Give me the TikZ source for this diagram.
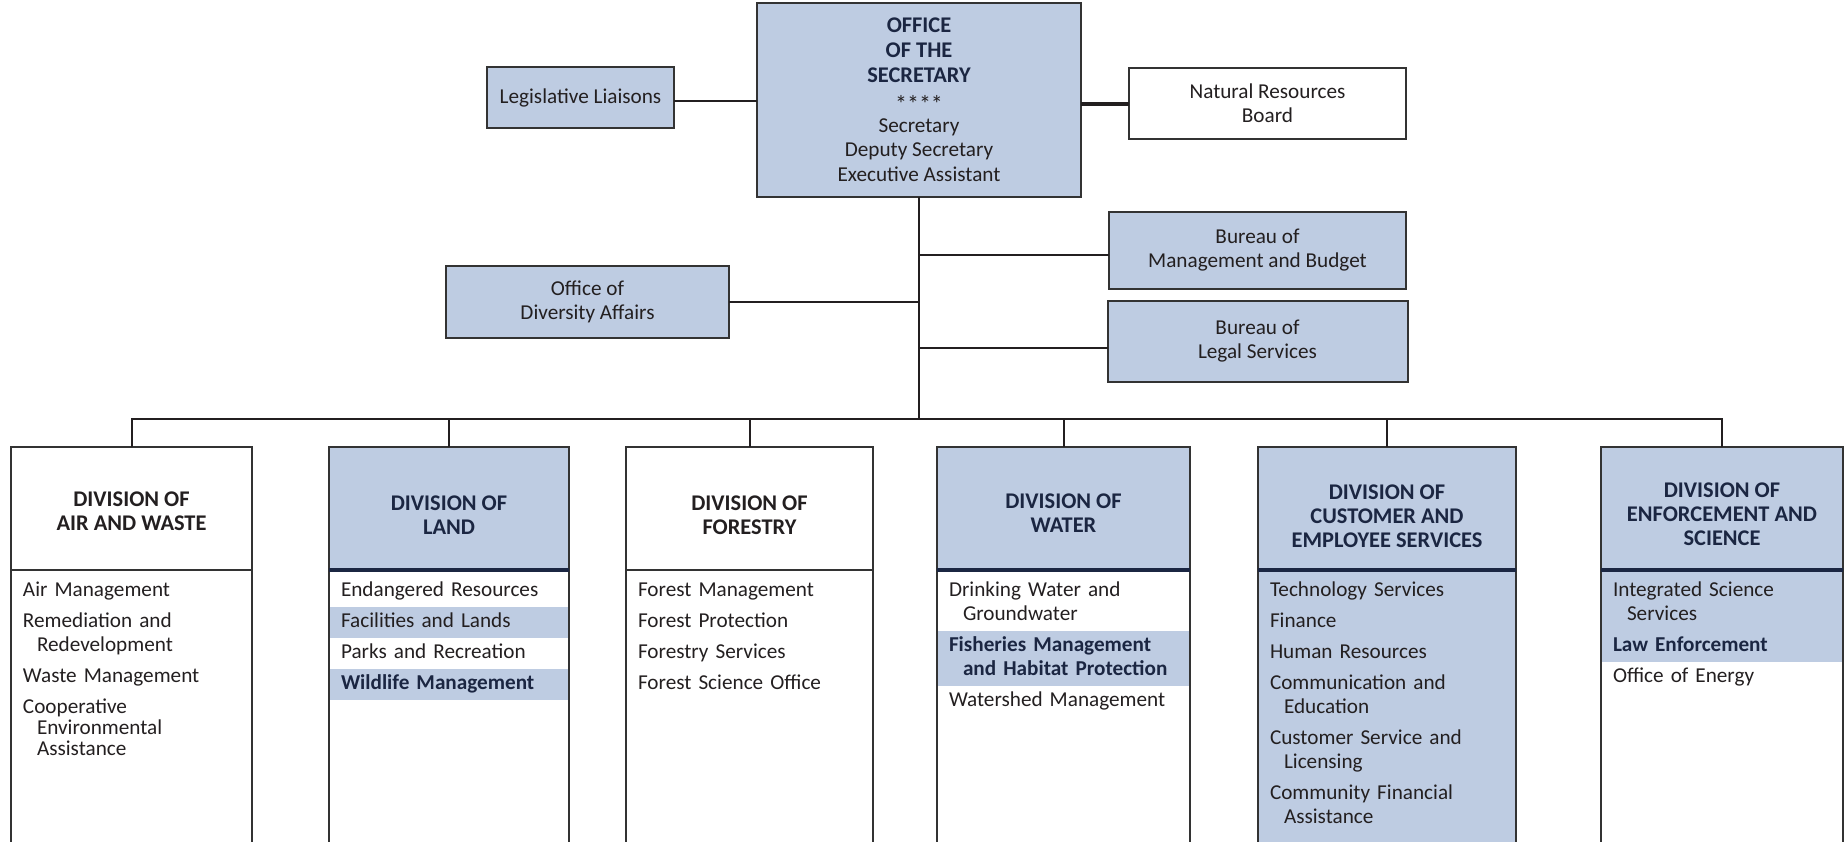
\documentclass[tikz,border=0pt]{standalone}
\usepackage{fontspec}
\setmainfont{Carlito}
\usetikzlibrary{positioning}

\definecolor{boxblue}{RGB}{190,204,226}
\definecolor{navy}{RGB}{27,38,66}
\definecolor{edge}{RGB}{51,51,51}
\definecolor{ink}{RGB}{35,31,32}

\newcommand{\rowstrut}{\rule[-3pt]{0pt}{11pt}}
\newcommand{\headstrut}[1][13.3pt]{\rule{0pt}{#1}}
\newcommand{\wrapin}{\hspace*{7pt}}
\newcommand{\caphead}[1]{\textcolor{navy}{\fontsize{11.2}{12.4}\selectfont\bfseries #1}}
\setlength{\lineskiplimit}{-6pt}

\begin{document}
\begin{tikzpicture}[
x=0.5pt, y=-0.5pt,
every node/.style={outer sep=0pt},
office/.style={draw=edge, line width=1pt, fill=boxblue, text=ink, align=center, inner sep=0pt, font=\fontsize{10.6}{12}\selectfont},
plainbox/.style={office, fill=white},
divhead/.style={draw=edge, line width=1pt, minimum height=61.5pt, inner sep=0pt, align=center, text=ink, font=\fontsize{11.2}{12}\selectfont\bfseries},
bluehead/.style={divhead, fill=boxblue, text=navy},
divbody/.style={draw=edge, line width=1pt, minimum height=150pt, inner sep=0pt},
lead/.code={\def\rowlead{#1}},
headroom/.code={\def\rowhead{#1}},
row/.style={text width=#1, align=left, inner xsep=5.5pt, inner ysep=2.25pt, text=ink, font=\fontsize{10.6}{10.5}\selectfont, lead=10.5pt, headroom=11pt, execute at begin node={\baselineskip=\rowlead\relax\rule[-3pt]{0pt}{\rowhead}}, execute at end node=\rowstrut},
toprow/.style={row=#1, headroom=14pt},
wide/.style={lead=12pt},
shade/.style={fill=boxblue},
strong/.style={fill=boxblue, text=navy, font=\fontsize{10.6}{12}\selectfont\bfseries, lead=12pt},
link/.style={draw=ink, line width=1pt},
rule/.style={draw=navy, line width=2pt} ]

\useasboundingbox (0,0) rectangle (1848,841);

\node[office, minimum width=162pt, minimum height=97pt, font=\fontsize{10.6}{12.4}\selectfont] (sec) at (919,100) {\caphead{OFFICE}\\\caphead{OF THE}\\\caphead{SECRETARY}\\\raisebox{-2.5pt}{\fontsize{12}{12}\selectfont****}\\Secretary\\Deputy Secretary\\Executive Assistant};

\node[office, minimum width=93.5pt, minimum height=30.5pt] (liaison) at (580.5,97.5) {Legislative Liaisons};

\node[plainbox, minimum width=138.5pt, minimum height=35.5pt] (board) at (1267.5,103.5) {Natural Resources\\Board};

\node[office, minimum width=148.5pt, minimum height=38.5pt] (budget) at (1257.5,250.5) {Bureau of\\Management and Budget};

\node[office, minimum width=141.5pt, minimum height=36pt] (diversity) at (587.5,302) {Office of\\Diversity Affairs};

\node[office, minimum width=150pt, minimum height=40.5pt] (legal) at (1257.5,341.5) {Bureau of\\Legal Services};

\coordinate (hub) at (919,419);

\draw[link] ([yshift=-1.5pt]liaison.east) -- ([yshift=-1.5pt]liaison.east -| sec.west);
\draw[link, line width=2pt] (sec.east |- board) -- (board);
\draw[link] (sec) -- (hub);
\draw[link] (diversity) -- (diversity -| sec);
\draw[link] ([yshift=-2.25pt]budget.west -| sec) -- ([yshift=-2.25pt]budget.west);
\draw[link] ([yshift=-3pt]legal.west -| sec) -- ([yshift=-3pt]legal.west);

\node[divhead, minimum width=120.5pt] (airhd) at (131.5,508.5) {\headstrut[9.7pt]DIVISION OF\\AIR AND WASTE};
\node[divbody, minimum width=120.5pt, below=0pt of airhd] (airbd) {};
\node[toprow=108.5pt, below=0pt of airhd] (air1) {Air Management};
\node[row=108.5pt, below=0pt of air1] (air2) {Remediation and\\\wrapin Redevelopment};
\node[row=108.5pt, below=0pt of air2] (air3) {Waste Management};
\node[row=108.5pt, below=0pt of air3] (air4) {Cooperative\\\wrapin Environmental\\\wrapin Assistance};

\node[bluehead, minimum width=120pt] (landhd) at (449,508.5) {\headstrut[14.3pt]DIVISION OF\\LAND};
\node[divbody, minimum width=120pt, below=0pt of landhd] (landbd) {};
\node[toprow=108pt, below=0pt of landhd] (land1) {Endangered Resources};
\node[row=108pt, shade, below=0pt of land1] (land2) {Facilities and Lands};
\node[row=108pt, below=0pt of land2] (land3) {Parks and Recreation};
\node[row=108pt, strong, below=0pt of land3] (land4) {Wildlife Management};

\node[divhead, minimum width=123.5pt] (forhd) at (749.5,508.5) {\headstrut[14.3pt]DIVISION OF\\FORESTRY};
\node[divbody, minimum width=123.5pt, below=0pt of forhd] (forbd) {};
\node[toprow=111.5pt, below=0pt of forhd] (for1) {Forest Management};
\node[row=111.5pt, below=0pt of for1] (for2) {Forest Protection};
\node[row=111.5pt, below=0pt of for2] (for3) {Forestry Services};
\node[row=111.5pt, below=0pt of for3] (for4) {Forest Science Office};

\node[bluehead, minimum width=126.5pt] (waterhd) at (1063.5,508.5) {\headstrut[12pt]DIVISION OF\\WATER};
\node[divbody, minimum width=126.5pt, below=0pt of waterhd] (waterbd) {};
\node[toprow=114.5pt, wide, below=0pt of waterhd] (water1) {Drinking Water and\\\wrapin Groundwater};
\node[row=114.5pt, strong, below=0pt of water1] (water2) {Fisheries Management\\\wrapin and Habitat Protection};
\node[row=114.5pt, below=0pt of water2] (water3) {Watershed Management};

\node[bluehead, minimum width=129pt] (custhd) at (1387,508.5) {\headstrut[15.3pt]DIVISION OF\\CUSTOMER AND\\EMPLOYEE SERVICES};
\node[divbody, fill=boxblue, minimum width=129pt, below=0pt of custhd] (custbd) {};
\node[toprow=117pt, below=0pt of custhd] (cust1) {Technology Services};
\node[row=117pt, below=0pt of cust1] (cust2) {Finance};
\node[row=117pt, below=0pt of cust2] (cust3) {Human Resources};
\node[row=117pt, below=0pt of cust3] (cust4) {Communication and\\\wrapin Education};
\node[row=117pt, below=0pt of cust4] (cust5) {Customer Service and\\\wrapin Licensing};
\node[row=117pt, below=0pt of cust5] (cust6) {Community Financial\\\wrapin Assistance};

\node[bluehead, minimum width=121pt] (enfhd) at (1722,508.5) {\headstrut DIVISION OF\\ENFORCEMENT AND\\SCIENCE};
\node[divbody, minimum width=121pt, below=0pt of enfhd] (enfbd) {};
\node[toprow=109pt, wide, shade, below=0pt of enfhd] (enf1) {Integrated Science\\\wrapin Services};
\node[row=109pt, strong, below=0pt of enf1] (enf2) {Law Enforcement};
\node[row=109pt, below=0pt of enf2] (enf3) {Office of Energy};

\foreach \d in {landhd, waterhd, custhd, enfhd}
  \draw[rule] (\d.south west) -- (\d.south east);

\draw[link] (airhd.north) |- (hub) -| (enfhd.north);
\foreach \d in {landhd, forhd, waterhd, custhd}
  \draw[link] (\d.north |- hub) -- (\d.north);

\end{tikzpicture}
\end{document}
